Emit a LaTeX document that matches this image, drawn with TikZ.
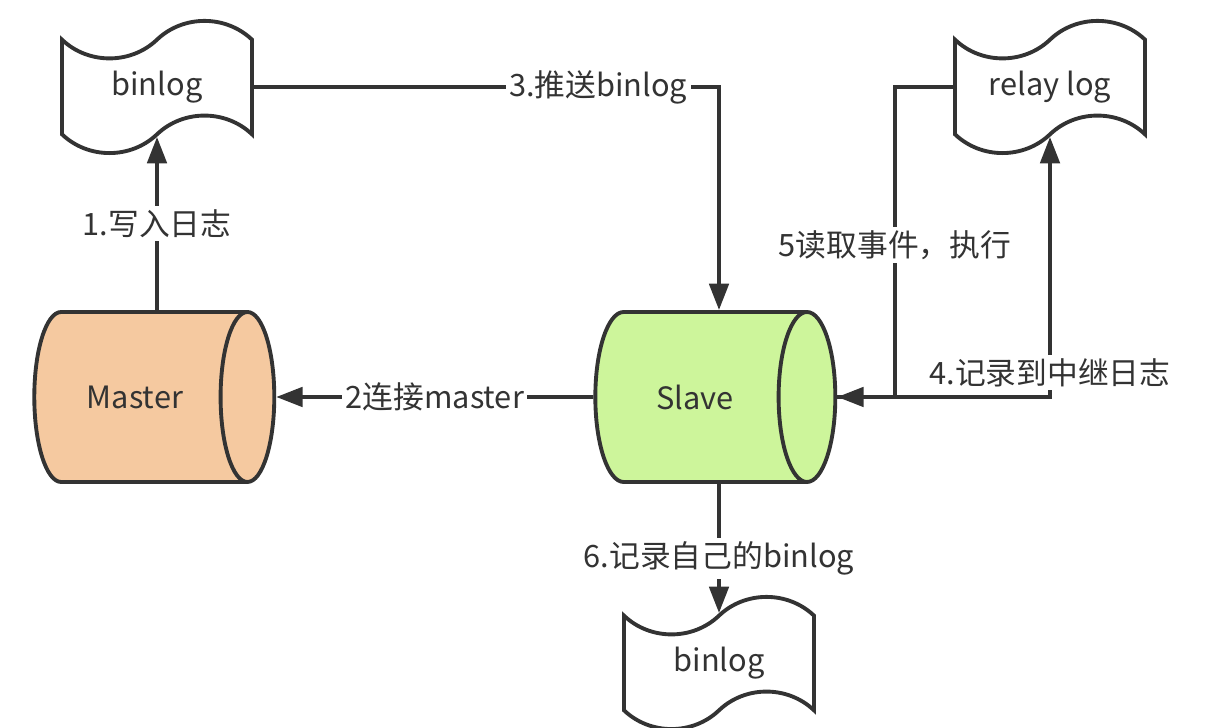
\documentclass[tikz,border=0pt]{standalone}
\usepackage{fontspec}
\setmainfont{Noto Sans CJK SC}
\definecolor{lnclr}{RGB}{51,51,51}
\definecolor{masterfill}{RGB}{245,201,160}
\definecolor{slavefill}{RGB}{205,245,155}
\usetikzlibrary{arrows.meta,positioning,shapes.geometric,shapes.symbols,calc}

\begin{document}
\begin{tikzpicture}[
  font=\fontsize{17.5}{21}\selectfont, text=lnclr,
  db/.style={cylinder, draw=lnclr, line width=2.2pt, shape aspect=1.55,
             minimum width=3.4cm, minimum height=4.8cm,
             cylinder uses custom fill, cylinder body fill=#1, cylinder end fill=#1},
  logf/.style={tape, draw=lnclr, line width=2.2pt, fill=white,
               tape bend top=in and out, tape bend bottom=in and out,
               tape bend height=0.75cm, minimum width=3.8cm, inner ysep=0.25cm},
  arr/.style={-{Triangle[length=15pt,width=11pt]}, draw=lnclr, line width=2.2pt},
  lbl/.style={fill=white, inner sep=2pt}
]
\useasboundingbox (0,0) rectangle (24.6,14.56);

% Databases
\node[db=masterfill] (master) at (2.70,6.62) {Master};
\node[db=slavefill] (slave) at (13.90,6.62) {Slave};

% Log files
\node[logf] (binlog) at (3.14,12.82) {binlog};
\node[logf] (relaylog) at (21.0,12.82) {relay log};
\node[logf] (slavebinlog) at (14.38,1.3) {binlog};

% Arrows
\draw[arr] (binlog.south |- master.north) -- node[lbl] {1.写入日志} (binlog.south);
\draw[arr] (slave.west) -- node[lbl] {2连接master} (master.east);
\draw[arr] (binlog.east) -| node[lbl, pos=0.37] {3.推送binlog} (slavebinlog.north |- slave.north);
\draw[arr] (slave.east) -| node[lbl, pos=0.547] {4.记录到中继日志} (relaylog.south);
\draw[arr] (relaylog.west) -- ++(-1.16,0) |- node[lbl, pos=0.255] {5读取事件，执行} (slave.east);
\draw[arr] (slavebinlog.north |- slave.south) -- node[lbl, pos=0.58] {6.记录自己的binlog} (slavebinlog.north);
\end{tikzpicture}
\end{document}
